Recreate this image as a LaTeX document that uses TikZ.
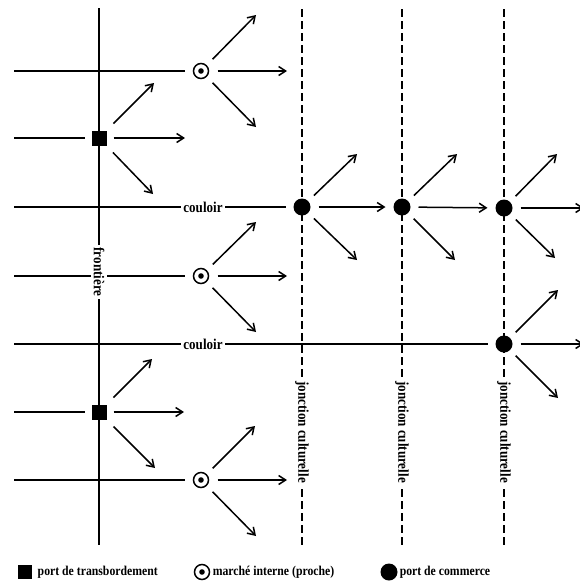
\documentclass[tikz,border=0pt]{standalone}
\usepackage{fontspec}
\setmainfont{Liberation Serif}
\newfontfamily\narrowserif[FakeStretch=0.87]{Liberation Serif}
\usetikzlibrary{arrows.meta}
\begin{document}
\begin{tikzpicture}[x=1pt,y=-1pt,line width=1.5pt,
  arr/.style={-{Straight Barb[length=7pt,width=9pt]}},
  sqnode/.style={rectangle,fill=black,minimum size=15pt,inner sep=0pt,outer sep=7pt},
  mknode/.style={circle,draw,line width=1.5pt,minimum size=15pt,inner sep=0pt,outer sep=9pt,
    path picture={\fill (path picture bounding box.center) circle (2.8pt);}},
  ptnode/.style={circle,fill=black,minimum size=17pt,inner sep=0pt,outer sep=8pt},
  lab/.style={fill=white,inner sep=2.5pt,font=\narrowserif\bfseries\fontsize{15}{16}\selectfont},
  vlab/.style={lab,rotate=-90},
  jline/.style={dash pattern=on 8pt off 4pt},
  leg/.style={anchor=west,inner sep=2pt,font=\narrowserif\bfseries\fontsize{13.5}{14}\selectfont}]
\useasboundingbox (0,0) rectangle (580,587);

% markers
\node[sqnode] (sq1) at (99,138) {};
\node[sqnode] (sq2) at (99,412) {};
\node[mknode] (m1) at (201,71) {};
\node[mknode] (m2) at (201,276) {};
\node[mknode] (m3) at (201,480) {};
\node[ptnode] (p1) at (302,207) {};
\node[ptnode] (p2) at (402,207) {};
\node[ptnode] (p3) at (504,208) {};
\node[ptnode] (p4) at (504,344) {};

% vertical lines
\draw (99,8) coordinate (ftop) -- (99,545) coordinate (fbot);
\draw[jline] (302,9) coordinate (j1top) -- (302,546) coordinate (j1bot);
\draw[jline] (402,9) coordinate (j2top) -- (402,546) coordinate (j2bot);
\draw[jline] (504,9) coordinate (j3top) -- (504,546) coordinate (j3bot);

% horizontal lines
\draw (14,71) coordinate (h1) -- (m1);
\draw (14,138) coordinate (h2) -- (sq1);
\draw (14,207) coordinate (h3) -- (p1);
\draw (14,276) coordinate (h4) -- (m2);
\draw (14,344) coordinate (h5) -- (p4);
\draw (14,412) coordinate (h6) -- (sq2);
\draw (14,480) coordinate (h7) -- (m3);

% arrows
\draw[arr] (m1) -- (256,15) coordinate (m1a);
\draw[arr] (m1) -- (287,71) coordinate (m1b);
\draw[arr] (m1) -- (256,127) coordinate (m1c);
\draw[arr] (sq1) -- (154,83) coordinate (s1a);
\draw[arr] (sq1) -- (185,138) coordinate (s1b);
\draw[arr] (sq1) -- (153,194) coordinate (s1c);
\draw[arr] (p1) -- (357,154) coordinate (p1a);
\draw[arr] (p1) -- (p2);
\draw[arr] (p1) -- (357,260) coordinate (p1c);
\draw[arr] (p2) -- (457,154) coordinate (p2a);
\draw[arr] (p2) -- (p3);
\draw[arr] (p2) -- (455,260) coordinate (p2c);
\draw[arr] (p3) -- (557,154) coordinate (p3a);
\draw[arr] (p3) -- (584,208) coordinate (p3b);
\draw[arr] (p3) -- (555,258) coordinate (p3c);
\draw[arr] (m2) -- (256,222) coordinate (m2a);
\draw[arr] (m2) -- (287,276) coordinate (m2b);
\draw[arr] (m2) -- (256,332) coordinate (m2c);
\draw[arr] (p4) -- (558,290) coordinate (p4a);
\draw[arr] (p4) -- (584,344) coordinate (p4b);
\draw[arr] (p4) -- (558,398) coordinate (p4c);
\draw[arr] (sq2) -- (152,359) coordinate (s2a);
\draw[arr] (sq2) -- (184,412) coordinate (s2b);
\draw[arr] (sq2) -- (155,468) coordinate (s2c);
\draw[arr] (m3) -- (255,426) coordinate (m3a);
\draw[arr] (m3) -- (287,480) coordinate (m3b);
\draw[arr] (m3) -- (256,536) coordinate (m3c);

% labels
\node[lab] (c1) at (203,207) {couloir};
\node[lab] (c2) at (203,344) {couloir};
\node[vlab] (fr) at (99,272) {frontière};
\node[vlab] (jc1) at (302,432) {jonction culturelle};
\node[vlab] (jc2) at (402,432) {jonction culturelle};
\node[vlab] (jc3) at (504,432) {jonction culturelle};

% legend
\node[sqnode,minimum size=14pt,outer sep=0pt] (lsq) at (25,572) {};
\node[leg] (lt1) at (35,572) {port de transbordement};
\node[mknode,outer sep=0pt] (lm) at (202,572) {};
\node[leg] (lt2) at (210,572) {marché interne (proche)};
\node[ptnode,outer sep=0pt] (lp) at (389,572) {};
\node[leg] (lt3) at (397,572) {port de commerce};
\end{tikzpicture}
\end{document}
